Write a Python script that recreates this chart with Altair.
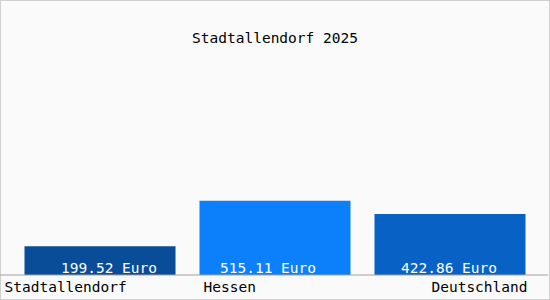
import altair as alt
import pandas as pd

categories = ["Stadtallendorf", "Hessen", "Deutschland"]
values = [199.52, 515.11, 422.86]
value_labels = ["199.52 Euro", "515.11 Euro", "422.86 Euro"]
title_text = "Stadtallendorf 2025"

colors = ["#094d98", "#0c80fa", "#0862c6"]
FONT = "DejaVu Sans Mono"
FS = 14.5

df = pd.DataFrame({"cat": categories, "value": values, "label": value_labels})

xscale = alt.Scale(domain=categories, range=[0, 550], paddingInner=0.137, paddingOuter=0.14)
yscale = alt.Scale(domain=[0, 1906], range=[275, 0])

base = alt.Chart(df)

bars = base.mark_bar().encode(
    x=alt.X("cat:N", scale=xscale, axis=None, sort=categories),
    y=alt.Y("value:Q", scale=yscale, axis=None),
    y2=alt.datum(0),
    color=alt.Color("cat:N", scale=alt.Scale(domain=categories, range=colors), legend=None),
)

baseline = alt.Chart(pd.DataFrame({"v": [0]})).mark_rule(color="#a0a0a0", strokeWidth=1).encode(
    y=alt.Y("v:Q", scale=yscale, axis=None),
    x=alt.value(0),
    x2=alt.value(548),
)

layers = [bars, baseline]

val_dx = [9, -7, -1]
lab_align = ["left", "left", "right"]
lab_dx = [-20, 4, 2]
for i, c in enumerate(categories):
    sub = base.transform_filter(alt.datum.cat == c).transform_calculate(zero="0")
    layers.append(
        sub.mark_text(font=FONT, fontSize=FS, color="white", baseline="alphabetic", dy=-2, dx=val_dx[i]).encode(
            x=alt.X("cat:N", scale=xscale, axis=None, sort=categories, bandPosition=0.5),
            y=alt.Y("zero:Q", scale=yscale, axis=None),
            text="label:N",
        )
    )
    band_pos = 0 if lab_align[i] == "left" else 1
    layers.append(
        sub.mark_text(font=FONT, fontSize=FS, color="black", baseline="alphabetic", align=lab_align[i], dy=17, dx=lab_dx[i]).encode(
            x=alt.X("cat:N", scale=xscale, axis=None, sort=categories, bandPosition=band_pos),
            y=alt.Y("zero:Q", scale=yscale, axis=None),
            text="cat:N",
        )
    )

title = alt.Chart(pd.DataFrame({"t": [title_text]})).mark_text(
    font=FONT, fontSize=FS, color="black", align="center", baseline="middle"
).encode(x=alt.value(275), y=alt.value(39), text="t:N")
layers.append(title)

chart = alt.layer(*layers).properties(
    width=550, height=300, padding=0, autosize=alt.AutoSizeParams(type="none"),
    background="#fafafa",
).configure_view(stroke="#d0d0d0", strokeWidth=2)

chart.save("out.html", embed_options={"renderer": "svg", "actions": False})
